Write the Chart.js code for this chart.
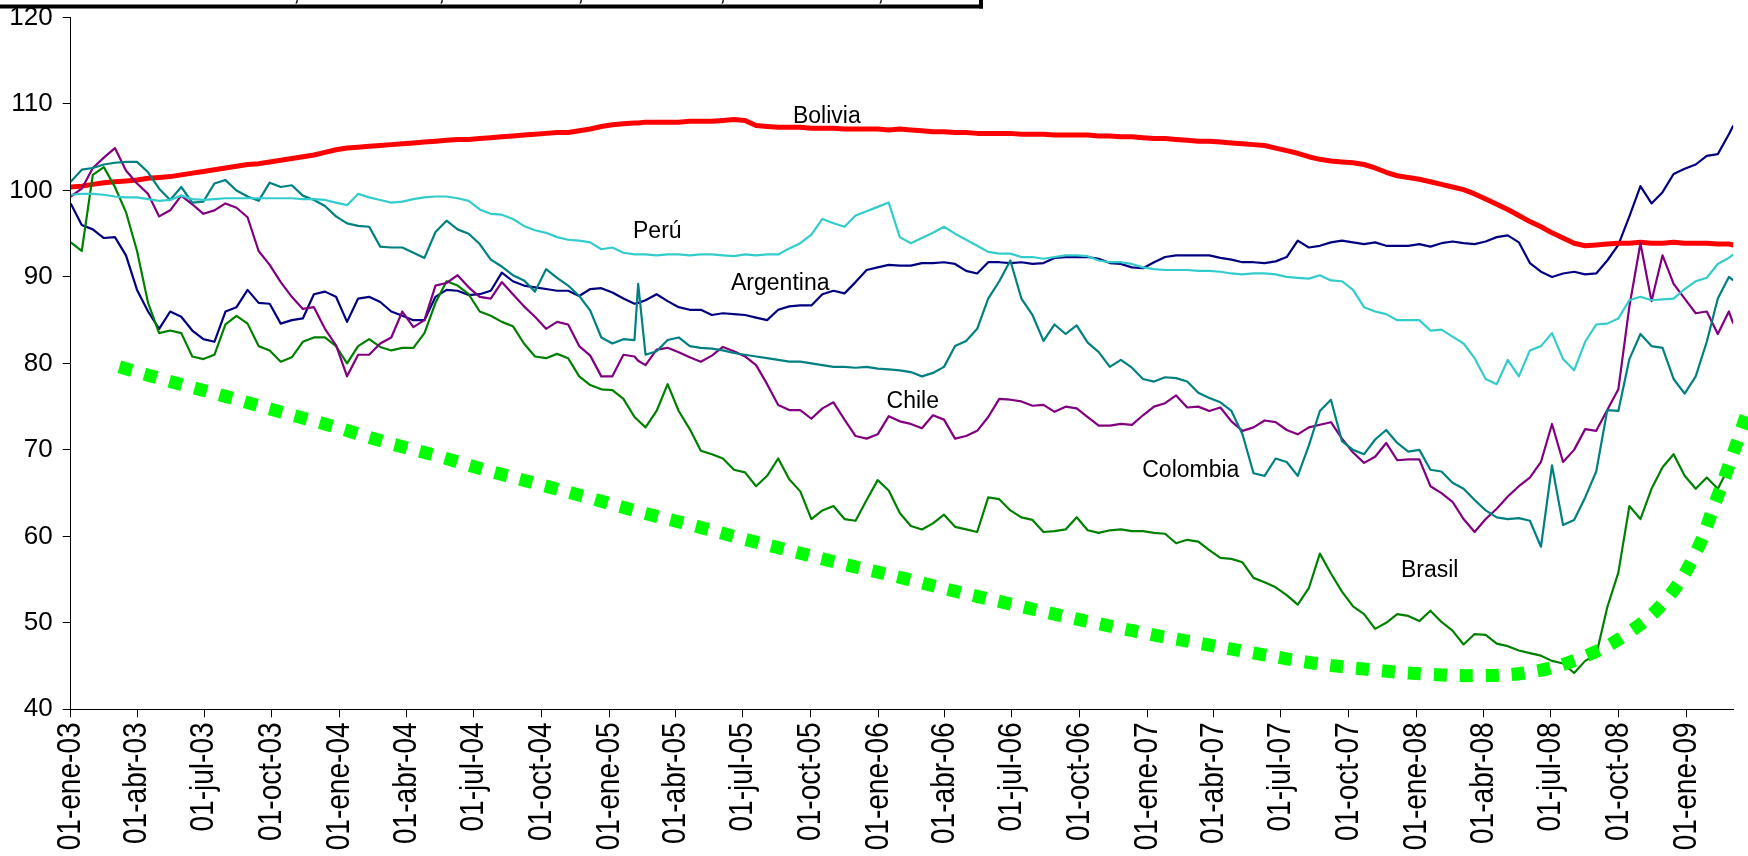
<!DOCTYPE html>
<html>
<head>
<meta charset="utf-8">
<script src="https://cdn.jsdelivr.net/npm/chart.js@4.4.1/dist/chart.umd.min.js"></script>
<style>
  html, body { margin: 0; padding: 0; background: #fff; }
  #wrap { width: 1748px; height: 856px; }
</style>
</head>
<body>
<div id="wrap"><canvas id="indexChart" width="1748" height="856"></canvas></div>
<script>
// days counted from 01-ene-03
const sampleDays = [
  0, 15, 30, 45, 60, 75, 90, 105, 120, 135, 150, 165, 180, 195, 210, 225, 240, 255, 270, 285,
  300, 315, 330, 345, 360, 375, 390, 405, 420, 435, 450, 465, 480, 495, 510, 525, 540, 555,
  570, 585, 600, 615, 630, 645, 660, 675, 690, 705, 720, 735, 750, 765, 770,
  780, 795, 810, 825, 840, 855, 870, 885, 900, 915, 930, 945, 960, 975, 990, 1005, 1020, 1035,
  1050, 1065, 1080, 1095, 1110, 1125,
  1140, 1155, 1170, 1185, 1200, 1215, 1230, 1245, 1260, 1275, 1290, 1305, 1320, 1335, 1350,
  1365, 1380, 1395, 1410, 1425, 1440, 1455, 1470, 1485, 1500, 1515, 1530, 1545, 1560, 1575,
  1590, 1605, 1620, 1635, 1650, 1665, 1680, 1695,
  1710, 1725, 1740, 1755, 1770, 1785, 1800, 1815, 1830, 1845, 1860, 1875, 1890, 1905, 1920,
  1935, 1950, 1965, 1980, 1995, 2010, 2025, 2040, 2055, 2070, 2085, 2100, 2115, 2130, 2145,
  2160, 2175, 2190, 2205, 2220, 2235, 2250, 2256
];

const argentina = [
  98.5, 96.0, 95.5, 94.5, 94.6, 92.5, 88.5, 86.0, 84.0, 86.0, 85.4, 83.8, 82.8, 82.5, 86.0, 86.5, 88.5, 87.0, 86.9, 84.6,
  85.0, 85.2, 88.0, 88.3, 87.7, 84.8, 87.5, 87.7, 87.1, 86.0, 85.5, 85.0, 85.0, 87.7, 88.5, 88.4, 87.9, 88.0,
  88.4, 90.5, 89.5, 89.0, 88.8, 88.6, 88.4, 88.4, 87.8, 88.6, 88.7, 88.2, 87.5, 86.9, 87.0,
  87.3, 88.0, 87.2, 86.5, 86.2, 86.2, 85.6, 85.8, 85.7, 85.6, 85.3, 85.0, 86.2, 86.6, 86.7, 86.7, 88.0, 88.4, 88.1,
  89.4, 90.8, 91.1, 91.4, 91.3,
  91.3, 91.6, 91.6, 91.7, 91.5, 90.7, 90.4, 91.7, 91.7, 91.6, 91.7, 91.5, 91.6, 92.2, 92.3, 92.3, 92.3, 92.1, 91.6,
  91.5, 91.1, 91.0, 91.7, 92.3, 92.5, 92.5, 92.5, 92.5, 92.2, 92.0, 91.7, 91.7, 91.6, 91.8, 92.3, 94.2, 93.4, 93.6,
  94.0, 94.2, 94.0, 93.8, 94.0, 93.6, 93.6, 93.6, 93.8, 93.5, 93.9, 94.1, 93.9, 93.8, 94.1, 94.6, 94.8, 94.0, 91.6,
  90.6, 90.0, 90.4, 90.6, 90.3, 90.4, 91.9, 93.7, 97.0, 100.5, 98.5, 99.8, 101.9, 102.5, 103.0, 104.0, 104.2, 106.5, 107.5
];

const bolivia = [
  100.4, 100.5, 100.7, 100.9, 101.0, 101.1, 101.2, 101.4, 101.5, 101.6, 101.8, 102.0, 102.2, 102.4, 102.6, 102.8, 103.0, 103.1, 103.3, 103.5,
  103.7, 103.9, 104.1, 104.4, 104.7, 104.9, 105.0, 105.1, 105.2, 105.3, 105.4, 105.5, 105.6, 105.7, 105.8, 105.9, 105.9, 106.0,
  106.1, 106.2, 106.3, 106.4, 106.5, 106.6, 106.7, 106.7, 106.9, 107.1, 107.4, 107.6, 107.7, 107.8, 107.8,
  107.9, 107.9, 107.9, 107.9, 108.0, 108.0, 108.0, 108.1, 108.2, 108.1, 107.5, 107.4, 107.3, 107.3, 107.3, 107.2, 107.2, 107.2,
  107.1, 107.1, 107.1, 107.1, 107.0, 107.1,
  107.0, 106.9, 106.8, 106.8, 106.7, 106.7, 106.6, 106.6, 106.6, 106.6, 106.5, 106.5, 106.5, 106.4, 106.4, 106.4, 106.4, 106.3, 106.3,
  106.2, 106.2, 106.1, 106.0, 106.0, 105.9, 105.8, 105.7, 105.7, 105.6, 105.5, 105.4, 105.3, 105.2, 104.9, 104.6, 104.3, 103.9, 103.6,
  103.4, 103.3, 103.2, 103.0, 102.6, 102.1, 101.7, 101.5, 101.3, 101.0, 100.7, 100.4, 100.1, 99.6, 99.0, 98.4, 97.8, 97.1, 96.4,
  95.8, 95.1, 94.5, 93.9, 93.6, 93.7, 93.8, 93.9, 93.9, 94.0, 93.9, 93.9, 94.0, 93.9, 93.9, 93.9, 93.8, 93.8, 93.7
];

const brasil = [
  94.0, 93.0, 101.8, 102.7, 100.4, 97.5, 93.0, 87.0, 83.5, 83.8, 83.5, 80.8, 80.5, 81.0, 84.5, 85.5, 84.6, 82.0, 81.5, 80.2,
  80.7, 82.5, 83.0, 83.0, 82.0, 80.0, 82.0, 82.8, 81.9, 81.5, 81.8, 81.8, 83.5, 87.0, 89.5, 89.0, 88.0, 86.0,
  85.5, 84.8, 84.3, 82.3, 80.8, 80.6, 81.1, 80.6, 78.5, 77.5, 77.0, 76.9, 75.9, 73.8, 73.4,
  72.6, 74.5, 77.6, 74.5, 72.4, 69.9, 69.5, 69.0, 67.7, 67.4, 65.8, 67.0, 69.0, 66.6, 65.2, 62.0, 63.0, 63.5, 62.0,
  61.8, 64.2, 66.5, 65.3, 62.7,
  61.2, 60.8, 61.5, 62.5, 61.1, 60.8, 60.5, 64.5, 64.3, 63.0, 62.2, 61.9, 60.5, 60.6, 60.8, 62.2, 60.7, 60.4, 60.7,
  60.8, 60.6, 60.6, 60.4, 60.3, 59.2, 59.6, 59.4, 58.4, 57.5, 57.4, 57.0, 55.2, 54.7, 54.1, 53.2, 52.1, 54.0, 58.0,
  55.7, 53.6, 51.9, 51.0, 49.3, 50.0, 51.0, 50.8, 50.2, 51.4, 50.1, 49.1, 47.5, 48.7, 48.6, 47.6, 47.3, 46.8, 46.5,
  46.2, 45.6, 45.3, 44.2, 45.6, 46.3, 51.8, 55.8, 63.5, 62.0, 65.5, 68.0, 69.5, 67.0, 65.5, 66.8, 65.5, 68.0, 67.3
];

const chile = [
  99.3, 100.2, 102.6, 103.8, 104.9, 102.3, 100.8, 99.6, 97.0, 97.7, 99.4, 98.4, 97.3, 97.7, 98.5, 98.0, 96.9, 93.0, 91.4, 89.4,
  87.7, 86.3, 86.5, 84.0, 82.1, 78.5, 81.0, 81.0, 82.3, 83.0, 86.0, 84.2, 85.0, 89.0, 89.3, 90.2, 88.8, 87.7,
  87.5, 89.4, 88.0, 86.6, 85.4, 84.0, 84.8, 84.5, 82.0, 80.9, 78.5, 78.5, 81.0, 80.8, 80.3,
  79.8, 81.6, 81.8, 81.3, 80.7, 80.2, 80.9, 81.9, 81.4, 80.8, 79.8, 77.6, 75.2, 74.6, 74.6, 73.6, 74.8, 75.5, 73.5,
  71.6, 71.3, 71.8, 73.9, 73.3,
  73.0, 72.5, 74.0, 73.5, 71.3, 71.6, 72.2, 73.8, 75.9, 75.8, 75.6, 75.1, 75.2, 74.4, 75.0, 74.8, 73.8, 72.8, 72.8,
  73.0, 72.9, 74.0, 75.0, 75.4, 76.3, 74.9, 75.0, 74.5, 74.9, 73.3, 72.2, 72.6, 73.4, 73.2, 72.3, 71.8, 72.6, 72.9,
  73.2, 71.3, 69.7, 68.5, 69.2, 70.8, 68.8, 68.9, 68.9, 65.8, 65.0, 64.0, 62.0, 60.5, 62.0, 63.2, 64.6, 65.8, 66.8,
  68.6, 73.0, 68.6, 70.0, 72.4, 72.2, 74.6, 77.0, 86.6, 93.9, 87.2, 92.5, 89.2, 87.5, 85.8, 86.0, 83.4, 86.0, 84.6
];

const colombia = [
  101.0, 102.4, 102.6, 103.0, 103.2, 103.3, 103.3, 102.1, 100.2, 98.9, 100.4, 98.6, 98.7, 100.8, 101.2, 100.0, 99.3, 98.8, 100.9, 100.4,
  100.6, 99.4, 98.9, 98.2, 97.0, 96.2, 95.9, 95.8, 93.5, 93.4, 93.4, 92.8, 92.2, 95.2, 96.5, 95.5, 95.0, 93.8,
  92.0, 91.2, 90.2, 89.6, 88.3, 90.9, 89.9, 89.0, 87.8, 86.1, 83.0, 82.3, 82.8, 82.7, 89.2,
  81.0, 81.4, 82.7, 83.0, 82.0, 81.8, 81.7, 81.5, 81.2, 81.0, 80.8, 80.6, 80.4, 80.2, 80.2, 80.0, 79.8, 79.6, 79.6,
  79.5, 79.6, 79.4, 79.3, 79.2,
  79.0, 78.5, 78.9, 79.6, 82.0, 82.6, 84.0, 87.5, 89.5, 91.9, 87.5, 85.6, 82.6, 84.5, 83.4, 84.4, 82.4, 81.3, 79.6,
  80.4, 79.5, 78.2, 77.9, 78.4, 78.3, 77.9, 76.6, 76.0, 75.5, 74.5, 71.8, 67.3, 67.0, 69.0, 68.6, 67.0, 70.5, 74.5,
  75.8, 71.0, 70.0, 69.5, 71.2, 72.3, 70.8, 69.8, 70.0, 67.7, 67.5, 66.2, 65.5, 64.2, 63.0, 62.2, 62.0, 62.1, 61.8,
  58.8, 68.2, 61.3, 61.9, 64.5, 67.5, 74.6, 74.5, 80.5, 83.4, 82.0, 81.8, 78.2, 76.5, 78.5, 82.5, 87.5, 90.0, 89.6
];

const peru = [
  99.5, 99.6, 99.6, 99.5, 99.3, 99.2, 99.2, 99.0, 98.8, 98.9, 99.4, 99.0, 98.9, 99.0, 99.1, 99.1, 99.1, 99.1, 99.1, 99.1,
  99.1, 99.0, 99.0, 98.9, 98.6, 98.3, 99.6, 99.2, 98.9, 98.6, 98.7, 99.0, 99.2, 99.3, 99.3, 99.1, 98.8, 97.8,
  97.3, 97.2, 96.7, 95.9, 95.4, 95.1, 94.6, 94.3, 94.2, 94.0, 93.2, 93.4, 92.8, 92.6, 92.6,
  92.6, 92.5, 92.6, 92.6, 92.5, 92.6, 92.6, 92.5, 92.4, 92.6, 92.5, 92.6, 92.6, 93.3, 93.9, 94.9, 96.7, 96.2, 95.8,
  97.1, 97.6, 98.1, 98.6, 94.6,
  93.9, 94.5, 95.1, 95.8, 95.0, 94.3, 93.6, 92.9, 92.7, 92.7, 92.3, 92.3, 92.1, 92.3, 92.5, 92.5, 92.4, 91.9, 91.7,
  91.7, 91.5, 91.1, 90.9, 90.8, 90.8, 90.8, 90.7, 90.7, 90.6, 90.4, 90.3, 90.4, 90.4, 90.3, 90.0, 89.9, 89.8, 90.2,
  89.6, 89.5, 88.5, 86.5, 86.0, 85.7, 85.0, 85.0, 85.0, 83.8, 83.9, 83.1, 82.3, 80.6, 78.2, 77.6, 80.4, 78.5, 81.5,
  82.0, 83.5, 80.5, 79.2, 82.5, 84.5, 84.6, 85.2, 87.3, 87.7, 87.3, 87.4, 87.5, 88.6, 89.5, 89.9, 91.5, 92.2, 92.6
];

// hand drawn trend line (runs past the right edge of the axis)
const trendDays = [66, 144, 214, 284, 353, 423, 493, 562, 632, 702, 773, 843, 913, 983, 1053, 1123, 1193, 1264,
  1335, 1406, 1476, 1547, 1619, 1690, 1762, 1835, 1907, 1980, 2048, 2113, 2166, 2205, 2231, 2250, 2276];
const trendValues = [79.6, 77.7, 76.1, 74.4, 72.8, 71.0, 69.4, 67.7, 66.1, 64.5, 62.8, 61.3, 59.7, 58.2, 56.7, 55.3, 53.8, 52.4,
  51.0, 49.7, 48.5, 47.4, 46.3, 45.3, 44.6, 44.1, 43.9, 44.3, 45.9, 48.8, 52.8, 58.1, 63.8, 68.2, 74.6];

const tickDays = [0, 90, 181, 273, 365, 456, 547, 639, 731, 821, 912, 1004, 1096, 1186, 1277, 1369,
  1461, 1551, 1642, 1734, 1826, 1917, 2008, 2100, 2192];
const tickLabels = ['01-ene-03', '01-abr-03', '01-jul-03', '01-oct-03', '01-ene-04', '01-abr-04', '01-jul-04',
  '01-oct-04', '01-ene-05', '01-abr-05', '01-jul-05', '01-oct-05', '01-ene-06', '01-abr-06', '01-jul-06',
  '01-oct-06', '01-ene-07', '01-abr-07', '01-jul-07', '01-oct-07', '01-ene-08', '01-abr-08', '01-jul-08',
  '01-oct-08', '01-ene-09'];

const seriesNames = ['Bolivia', 'Perú', 'Argentina', 'Chile', 'Colombia', 'Brasil'];
const nameDays = [980, 763, 896, 1107, 1454, 1805];
const nameValues = [107.8, 94.5, 88.5, 74.9, 66.9, 55.3];

(() => {
  const FONT = '"Liberation Sans", Arial, sans-serif';
  const toPoints = (xs, ys) => xs.map((x, i) => ({ x, y: ys[i] }));

  const line = (label, values, color, width, order) => ({
    label,
    data: toPoints(sampleDays, values),
    borderColor: color,
    borderWidth: width,
    borderJoinStyle: 'round',
    pointRadius: 0,
    tension: 0,
    order
  });

  const annotate = {
    id: 'annotate',
    afterDraw(chart) {
      const { ctx, scales: { x, y } } = chart;
      ctx.save();
      ctx.fillStyle = '#000';

      // date labels: upright, condensed along the text like the original export
      ctx.font = '34px ' + FONT;
      ctx.textAlign = 'right';
      ctx.textBaseline = 'middle';
      x.ticks.forEach((tick, i) => {
        ctx.save();
        ctx.translate(x.getPixelForValue(tick.value), x.top + 13);
        ctx.rotate(-Math.PI / 2);
        ctx.scale(0.826, 1);
        ctx.fillText(tickLabels[i], 0, 0);
        ctx.restore();
      });

      ctx.font = '23px ' + FONT;
      ctx.textAlign = 'left';
      ctx.textBaseline = 'alphabetic';
      seriesNames.forEach((name, i) => {
        ctx.fillText(name, x.getPixelForValue(nameDays[i]), y.getPixelForValue(nameValues[i]));
      });

      // bottom of the legend box that is cut off by the top of the picture
      ctx.fillRect(0, 4.5, 983, 4);
      ctx.fillRect(979, 0, 4, 8.5);
      ctx.font = '26px ' + FONT;
      [293, 438, 577, 719, 877].forEach((cx) => ctx.fillText(',', cx, 0));
      ctx.restore();
    }
  };

  new Chart(document.getElementById('indexChart'), {
    type: 'line',
    data: {
      datasets: [
        {
          label: 'Tendencia',
          data: toPoints(trendDays, trendValues),
          borderColor: '#00ff00',
          borderWidth: 13,
          borderDash: [13, 13],
          borderCapStyle: 'butt',
          pointRadius: 0,
          tension: 0.4,
          clip: false,
          order: 0
        },
        line('Perú', peru, '#33cccc', 2.2, 1),
        line('Colombia', colombia, '#008080', 2.2, 2),
        line('Chile', chile, '#800080', 2.2, 3),
        line('Brasil', brasil, '#008000', 2.2, 4),
        line('Bolivia', bolivia, '#ff0000', 5, 5),
        line('Argentina', argentina, '#000080', 2.2, 6)
      ]
    },
    options: {
      responsive: false,
      animation: false,
      layout: { padding: { top: 17.5, right: 14.7, left: 0, bottom: 0 } },
      plugins: {
        legend: { display: false },
        tooltip: { enabled: false }
      },
      scales: {
        x: {
          type: 'linear',
          min: 0,
          max: 2256,
          afterBuildTicks: (scale) => { scale.ticks = tickDays.map((value) => ({ value })); },
          afterFit: (scale) => {
            scale.height = 146.7;
            scale.paddingLeft = 0;
            scale.paddingRight = 0;
          },
          grid: { drawOnChartArea: false, tickLength: 8, color: '#000' },
          border: { color: '#000', width: 1 },
          ticks: { display: false, autoSkip: false }
        },
        y: {
          min: 40,
          max: 120,
          afterFit: (scale) => {
            scale.width = 70.7;
            scale.paddingTop = 0;
            scale.paddingBottom = 0;
          },
          grid: { drawOnChartArea: false, tickLength: 8, color: '#000' },
          border: { color: '#000', width: 1 },
          ticks: {
            stepSize: 10,
            padding: 10,
            color: '#000',
            font: { family: FONT, size: 26 }
          }
        }
      }
    },
    plugins: [annotate]
  });
})();
</script>
</body>
</html>
